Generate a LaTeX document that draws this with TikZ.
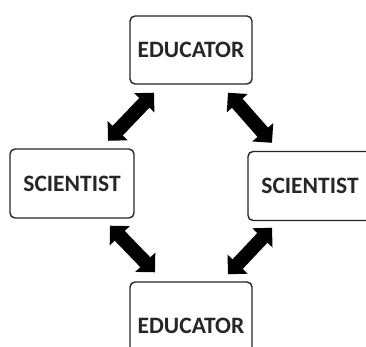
\documentclass[tikz,border=0pt]{standalone}
\usepackage{fontspec}
\setmainfont{Carlito}
\usetikzlibrary{arrows.meta}
\begin{document}
\begin{tikzpicture}[x=1pt,y=-1pt,
  box/.style={draw=black!85, line width=1.4pt, rounded corners=5pt, fill=white,
    inner sep=0pt, font=\fontsize{23.5}{27}\selectfont\bfseries, text=black!85},
  dbl/.style={line width=14pt, black,
    {Triangle[width=27pt,length=14pt]}-{Triangle[width=27pt,length=14pt]}}]
\useasboundingbox (0,0) rectangle (366,347);
\clip (0,0) rectangle (366,347);
\fill[white] (0,0) rectangle (366,347);
\node[box, minimum width=122pt, minimum height=68pt] (top) at (191,50) {EDUCATOR};
\node[box, minimum width=124pt, minimum height=69pt] (left) at (72,183.5) {SCIENTIST};
\node[box, minimum width=124pt, minimum height=69pt] (right) at (310,186) {SCIENTIST};
\node[box, minimum width=122pt, minimum height=88pt] (bottom) at (191,326) {EDUCATOR};
\draw[dbl] ([xshift=-37pt,yshift=-8pt]top.south) -- ([xshift=36pt,yshift=7.5pt]left.north);
\draw[dbl] ([xshift=37pt,yshift=-8pt]top.south) -- ([xshift=-38pt,yshift=8pt]right.north);
\draw[dbl] ([xshift=38pt,yshift=-7pt]left.south) -- ([xshift=-36pt,yshift=9pt]bottom.north);
\draw[dbl] ([xshift=-38pt,yshift=-6.5pt]right.south) -- ([xshift=37pt,yshift=7pt]bottom.north);
\end{tikzpicture}
\end{document}
